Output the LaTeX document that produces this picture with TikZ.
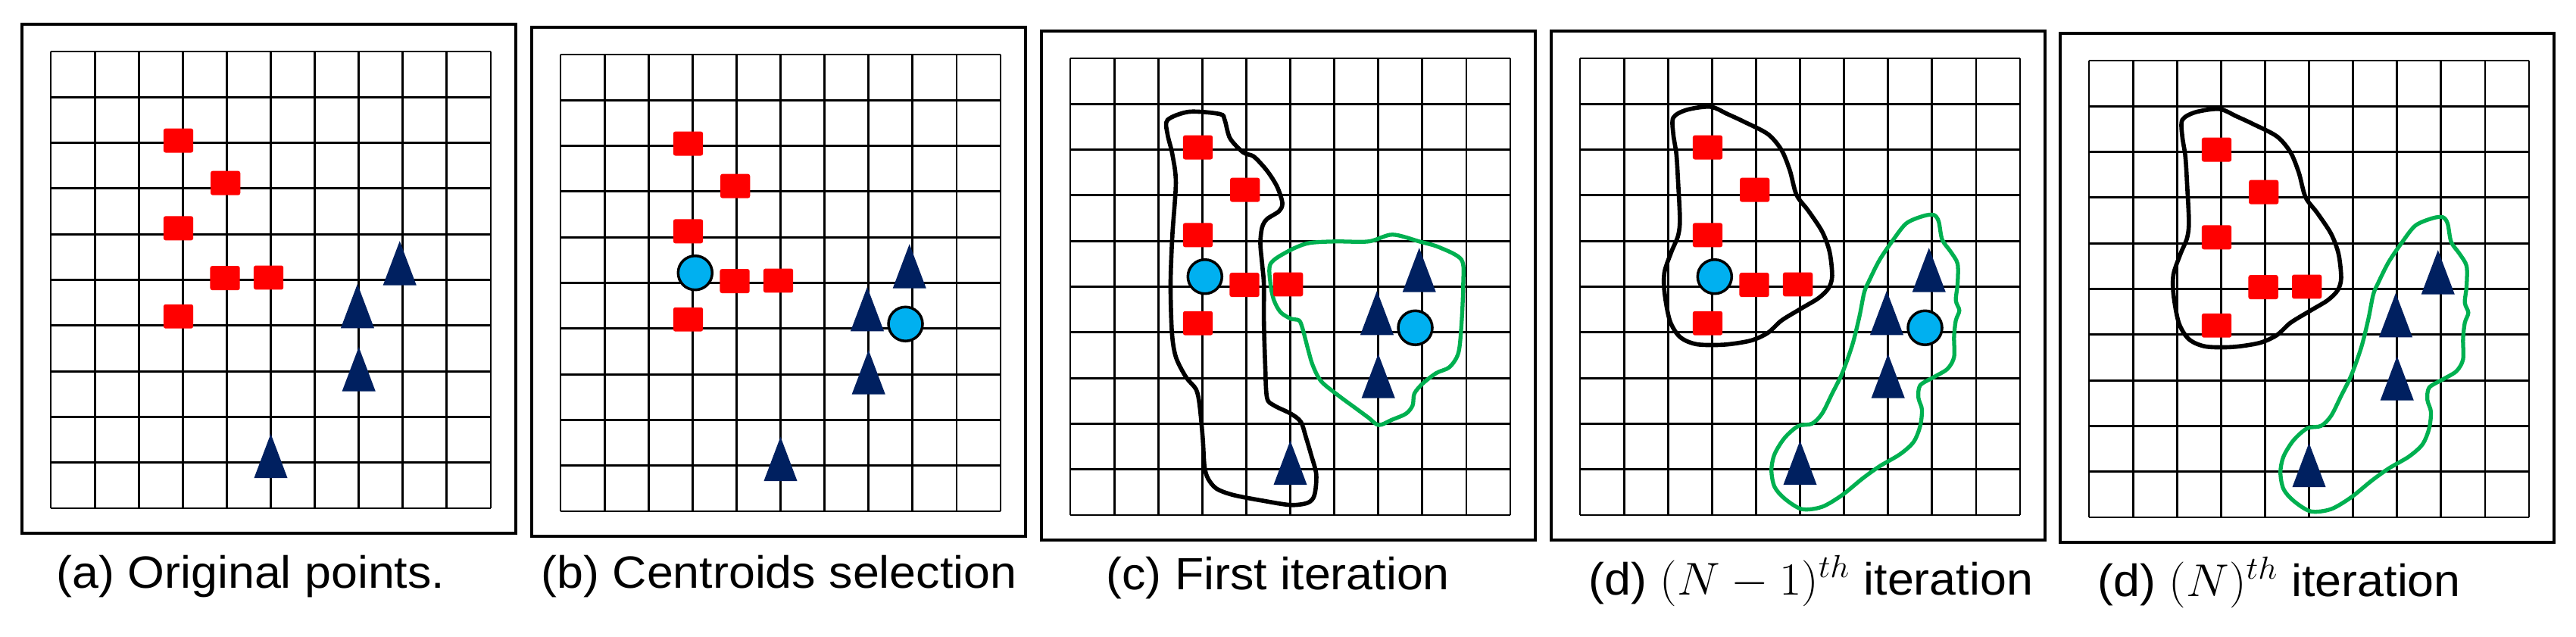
\documentclass[tikz,border=0pt]{standalone}
\usepackage{fontspec}
\setmainfont{Liberation Sans}
\usepackage{graphicx}
\usepackage{tikz}

\definecolor{sqred}{RGB}{255,0,0}
\definecolor{trinavy}{RGB}{0,32,96}
\definecolor{centcyan}{RGB}{0,176,240}
\definecolor{blobgreen}{RGB}{0,176,80}

\newcommand{\redsq}[2]{\fill[sq] (#1,#2) ++(-0.338,-0.265) rectangle ++(0.676,0.53);}
\newcommand{\navytri}[2]{\fill[tri] (#1,#2) ++(-0.38,0) -- ++(0.76,0) -- ++(-0.38,0.97) -- cycle;}
\newcommand{\centroids}{%
  \filldraw[cent] (3.06,5.22) circle[radius=0.225cm];
  \filldraw[cent] (7.84,4.10) circle[radius=0.225cm];
}
\newcommand{\allpoints}{%
  \foreach \sx/\sy in {2.9/8.05, 3.97/7.12, 2.9/6.13, 3.96/5.04, 4.95/5.05, 2.9/4.2}{\redsq{\sx}{\sy}}
  \foreach \tx/\ty in {7.93/4.88, 6.97/3.94, 7.0/2.56, 5.0/0.66}{\navytri{\tx}{\ty}}
}
\newcommand{\blobsC}{%
  \draw[blobk] plot[smooth cycle] coordinates {(2.21,8.65) (2.70,8.83) (3.40,8.78) (3.51,8.65)
    (3.63,8.25) (3.93,7.94) (4.17,7.85) (4.47,7.54) (4.70,7.19) (4.82,6.83) (4.74,6.65)
    (4.47,6.48) (4.36,6.30) (4.32,5.95) (4.36,5.50) (4.40,5.06) (4.40,4.26) (4.43,3.28)
    (4.47,2.57) (4.63,2.40) (5.01,2.22) (5.24,2.04) (5.36,1.69) (5.47,1.33) (5.59,0.89)
    (5.55,0.44) (5.40,0.27) (5.01,0.22) (4.40,0.31) (3.70,0.44) (3.32,0.58) (3.13,0.80)
    (3.05,1.07) (3.01,1.69) (2.94,2.40) (2.86,2.75) (2.63,3.02) (2.40,3.46) (2.31,4.00)
    (2.28,5.06) (2.32,6.12) (2.40,7.28) (2.32,7.90) (2.21,8.34)};
  \draw[blobg] plot[smooth cycle] coordinates {(4.55,5.50) (4.94,5.77) (5.40,5.95) (6.01,5.99)
    (6.78,5.99) (7.32,6.14) (7.93,5.99) (8.39,5.86) (8.89,5.59) (8.93,5.06) (8.89,4.17)
    (8.82,3.55) (8.62,3.24) (8.32,3.11) (8.01,2.88) (7.82,2.66) (7.78,2.40) (7.63,2.22)
    (7.32,2.09) (7.01,1.97) (6.78,2.13) (6.47,2.35) (6.09,2.62) (5.70,2.93) (5.51,3.28)
    (5.40,3.64) (5.28,4.08) (5.20,4.26) (5.01,4.30) (4.78,4.44) (4.63,4.70) (4.55,5.06)};
}
\newcommand{\blobsD}{%
  \draw[blobk] plot[smooth cycle] coordinates {(2.12,8.70) (2.42,8.87) (2.96,8.94) (3.35,8.78)
    (3.73,8.61) (4.27,8.34) (4.58,7.99) (4.77,7.54) (4.92,7.01) (5.19,6.66) (5.50,6.21)
    (5.67,5.77) (5.73,5.24) (5.65,4.97) (5.42,4.75) (5.04,4.53) (4.58,4.26) (4.27,3.99)
    (3.88,3.82) (3.27,3.73) (2.65,3.74) (2.27,3.90) (2.04,4.26) (1.92,4.88) (1.92,5.32)
    (2.08,5.77) (2.23,6.12) (2.27,6.48) (2.23,7.28) (2.19,7.90) (2.12,8.34)};
  \draw[blobg] plot[smooth cycle] coordinates {(8.04,6.57) (8.15,6.43) (8.23,6.03) (8.42,5.77)
    (8.58,5.50) (8.58,5.06) (8.54,4.70) (8.62,4.48) (8.54,4.26) (8.50,3.90) (8.50,3.46)
    (8.35,3.20) (8.04,3.02) (7.73,2.84) (7.69,2.57) (7.77,2.31) (7.73,1.95) (7.58,1.60)
    (7.27,1.33) (6.81,1.07) (6.42,0.80) (5.96,0.44) (5.50,0.18) (5.04,0.13) (4.65,0.36)
    (4.42,0.62) (4.35,0.98) (4.42,1.33) (4.65,1.69) (4.96,1.95) (5.27,2.00) (5.50,2.22)
    (5.73,2.66) (5.96,3.11) (6.19,3.73) (6.35,4.35) (6.46,4.88) (6.58,5.15) (6.81,5.59)
    (7.12,6.03) (7.42,6.39) (7.81,6.55)};
}

\begin{document}
\begin{tikzpicture}[
    gridln/.style={draw=black, line width=0.8pt, xstep=1, ystep=1},
    panelbox/.style={draw=black, line width=1.3pt},
    sq/.style={fill=sqred, rounded corners=0.8pt},
    tri/.style={fill=trinavy},
    cent/.style={fill=centcyan, draw=black, line width=1pt},
    blobk/.style={draw=black, line width=1.6pt},
    blobg/.style={draw=blobgreen, line width=1.5pt},
    capt/.style={anchor=base west, inner sep=0pt, font=\fontsize{17pt}{20pt}\selectfont}
  ]
  \useasboundingbox (0,0) rectangle (34.01,8.40);

  \foreach \px/\py/\bl/\ce in {0.67/1.69/\relax/\relax, 7.40/1.65/\relax/\centroids,
      14.13/1.60/\blobsC/\centroids, 20.86/1.60/\blobsD/\centroids, 27.58/1.57/\blobsD/\relax}{
    \begin{scope}[shift={(\px,\py)}, x=0.581cm, y=0.603cm]
      \draw[gridln] (0,0) grid (10,10);
      \draw[panelbox] (-0.654,-0.547) rectangle (10.568,10.597);
      \bl
      \allpoints
      \ce
    \end{scope}
  }

  \node[capt] (capa) at (0.74,0.64) {\scalebox{1.05}[1]{(a) Original points.}};
  \node[capt] (capb) at (7.14,0.63) {\scalebox{1.05}[1]{(b) Centroids selection}};
  \node[capt] (capc) at (14.60,0.61) {\scalebox{1.05}[1]{(c) First iteration}};
  \node[capt] (capd) at (20.97,0.55) {\scalebox{1.05}[1]{(d) $(N-1)^{th}$ iteration}};
  \node[capt] (cape) at (27.69,0.53) {\scalebox{1.05}[1]{(d) $(N)^{th}$ iteration}};
\end{tikzpicture}
\end{document}
